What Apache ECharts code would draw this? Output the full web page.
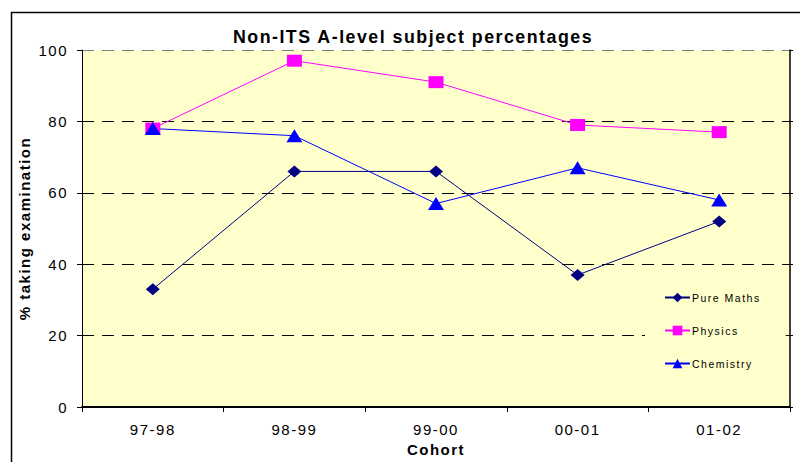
<!DOCTYPE html>
<html>
<head>
<meta charset="utf-8">
<title>Non-ITS A-level subject percentages</title>
<script src="https://cdn.jsdelivr.net/npm/echarts@6/dist/echarts.min.js"></script>
<style>
  html, body { margin: 0; padding: 0; background: #fff; }
  #chart { width: 800px; height: 462px; }
  /* widen the tracking of all chart text a little */
  #chart text { letter-spacing: 1.5px; }
</style>
</head>
<body>
<div id="chart"></div>
<script>
// Cohorts along the x axis
const cohorts = ['97-98', '98-99', '99-00', '00-01', '01-02'];

// Percentage of students taking each examination
const pureMaths = [33, 66, 66, 37, 52];
const physics   = [78, 97, 91, 79, 77];
const chemistry = [78, 76, 57, 67, 58];

// Value axis scale
const yMin = 0;
const yMax = 100;
const yStep = 20;

const FONT = 'Arial, "Liberation Sans", sans-serif';

const chart = echarts.init(document.getElementById('chart'), null, { renderer: 'svg' });

const option = {
  backgroundColor: '#ffffff',
  animation: false,
  textStyle: { fontFamily: FONT, color: '#000' },
  title: {
    text: 'Non-ITS A-level subject percentages',
    left: 413,
    top: 28,
    textAlign: 'center',
    padding: 0,
    textStyle: { fontFamily: FONT, fontSize: 17.8, fontWeight: 'bold', color: '#000' }
  },
  graphic: [
    {
      // outer chart frame
      type: 'rect',
      z: -10,
      shape: { x: 11.5, y: 12.5, width: 800, height: 460 },
      style: { fill: 'none', stroke: '#000', lineWidth: 1.5 }
    }
  ],
  grid: {
    left: 82,
    top: 50,
    right: 10,
    bottom: 49,
    show: true,
    backgroundColor: '#FFFFCC',
    borderWidth: 0
  },
  legend: {
    orient: 'vertical',
    left: 645,
    top: 275,
    padding: [17, 40, 37, 19],
    itemWidth: 25,
    itemHeight: 12,
    itemGap: 22,
    backgroundColor: '#FFFFCC',
    textStyle: { fontFamily: FONT, fontSize: 10.5, color: '#000', padding: [0, 0, 0, -3] },
    data: ['Pure Maths', 'Physics', 'Chemistry']
  },
  xAxis: {
    type: 'category',
    data: cohorts,
    boundaryGap: true,
    name: 'Cohort',
    nameLocation: 'middle',
    nameGap: 27,
    nameTextStyle: { fontFamily: FONT, fontSize: 15, fontWeight: 'bold', color: '#000' },
    axisLine: { show: true, lineStyle: { color: '#000', width: 2 } },
    axisTick: { show: true, alignWithLabel: false, length: 5, lineStyle: { color: '#000', width: 1 } },
    axisLabel: { fontFamily: FONT, fontSize: 15, color: '#000', margin: 15 },
    splitLine: { show: false }
  },
  yAxis: [
    {
      type: 'value',
      min: yMin,
      max: yMax,
      interval: yStep,
      name: '% taking examination',
      nameLocation: 'middle',
      nameGap: 41,
      nameTextStyle: { fontFamily: FONT, fontSize: 15, fontWeight: 'bold', color: '#000' },
      axisLine: { show: true, lineStyle: { color: '#000', width: 1 } },
      axisTick: { show: true, length: 5, lineStyle: { color: '#000' } },
      axisLabel: { fontFamily: FONT, fontSize: 15, color: '#000', margin: 14 },
      splitLine: {
        show: true,
        lineStyle: {
          color: ['#000', '#000', '#000', '#000', '#000', '#808080'],
          type: [12, 8],
          width: 1
        }
      }
    },
    {
      // right-hand frame of the plot with small outward ticks
      type: 'value',
      position: 'right',
      min: yMin,
      max: yMax,
      interval: yStep,
      axisLine: { show: true, lineStyle: { color: '#000', width: 1.5 } },
      axisTick: { show: true, length: 3, lineStyle: { color: '#000' } },
      axisLabel: { show: false },
      splitLine: { show: false }
    }
  ],
  series: [
    {
      name: 'Pure Maths',
      type: 'line',
      data: pureMaths,
      symbol: 'diamond',
      symbolSize: [14, 12],
      color: '#000080',
      lineStyle: { width: 1, color: '#000080' },
      itemStyle: { color: '#000080' }
    },
    {
      name: 'Physics',
      type: 'line',
      data: physics,
      symbol: 'rect',
      symbolSize: [15, 12],
      color: '#FF00FF',
      lineStyle: { width: 1, color: '#FF00FF' },
      itemStyle: { color: '#FF00FF' }
    },
    {
      name: 'Chemistry',
      type: 'line',
      data: chemistry,
      symbol: 'triangle',
      symbolSize: [16, 13],
      color: '#0000FF',
      lineStyle: { width: 1, color: '#0000FF' },
      itemStyle: { color: '#0000FF' }
    }
  ]
};

chart.setOption(option);
</script>
</body>
</html>
